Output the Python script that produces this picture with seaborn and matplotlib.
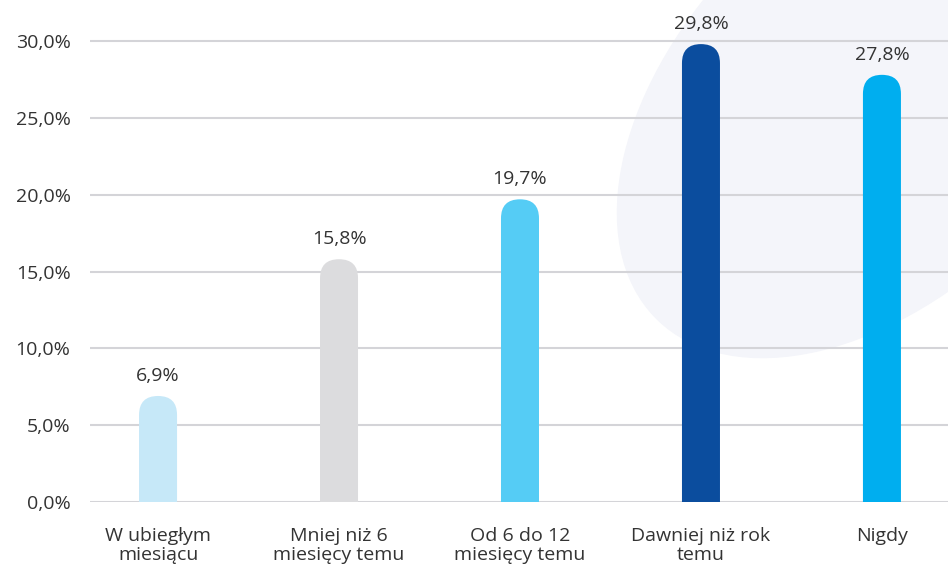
import matplotlib
matplotlib.use("Agg")
import matplotlib.pyplot as plt
import seaborn as sns
import pandas as pd
from matplotlib.patches import FancyBboxPatch, Ellipse

categories = ["W ubiegłym\nmiesiącu", "Mniej niż 6\nmiesięcy temu", "Od 6 do 12\nmiesięcy temu",
              "Dawniej niż rok\ntemu", "Nigdy"]
shares = [6.9, 15.8, 19.7, 29.8, 27.8]
bar_colors = ["#c6e8f8", "#dcdcde", "#55ccf5", "#0b4d9e", "#00aeef"]
yticks = [0, 5, 10, 15, 20, 25, 30]

df = pd.DataFrame({"cat": categories, "share": shares})

sns.set_style("white")
plt.rcParams["font.family"] = ["Open Sans", "DejaVu Sans"]

fig = plt.figure(figsize=(9.48, 5.74), dpi=100)
ax = fig.add_axes([90 / 948, 72 / 574, 1 - 90 / 948, 1 - 72 / 574])
ax.patch.set_alpha(0)
ax.set_zorder(2)

# pale background blob
blob = Ellipse((880, 574 - 95), 632, 390, angle=45, color="#f4f5fa", transform=None, zorder=0)
fig.patches.append(blob)

bar_w = 0.21
sns.barplot(data=df, x="cat", y="share", hue="cat", palette=bar_colors, legend=False,
            saturation=1, width=bar_w, ax=ax, zorder=3)

ax.set_xlim(-0.376, 4.365)
ax.set_ylim(0, 32.67)

# swap square bars for bars with a rounded top
r_x = bar_w / 2
r_y = 19 / 15.37
for p in list(ax.patches):
    x0, h, w, c = p.get_x(), p.get_height(), p.get_width(), p.get_facecolor()
    p.set_visible(False)
    rb = FancyBboxPatch((x0, -r_y), w, h + r_y, boxstyle=f"round,pad=0,rounding_size={r_x}",
                        mutation_aspect=r_y / r_x, facecolor=c, edgecolor="none", zorder=3)
    ax.add_patch(rb)
    ax.annotate(f"{h:.1f}%".replace(".", ","), (x0 + w / 2, h), xytext=(0, 8),
                textcoords="offset points", ha="center", va="bottom", fontsize=14, color="#333333")

ax.set_yticks(yticks)
ax.set_yticklabels([f"{v:.1f}%".replace(".", ",") for v in yticks])
ax.grid(axis="y", color="#d4d4d8", linewidth=1.5, zorder=1)
ax.set_axisbelow(True)
ax.tick_params(axis="y", length=0, pad=14, labelsize=14, labelcolor="#333333")
ax.tick_params(axis="x", length=0, pad=18, labelsize=14, labelcolor="#333333")
for lab in ax.get_xticklabels():
    lab.set_linespacing(1.05)
ax.set_xlabel("")
ax.set_ylabel("")
sns.despine(ax=ax, left=True, bottom=True)

fig.savefig("out.png", dpi=100)
